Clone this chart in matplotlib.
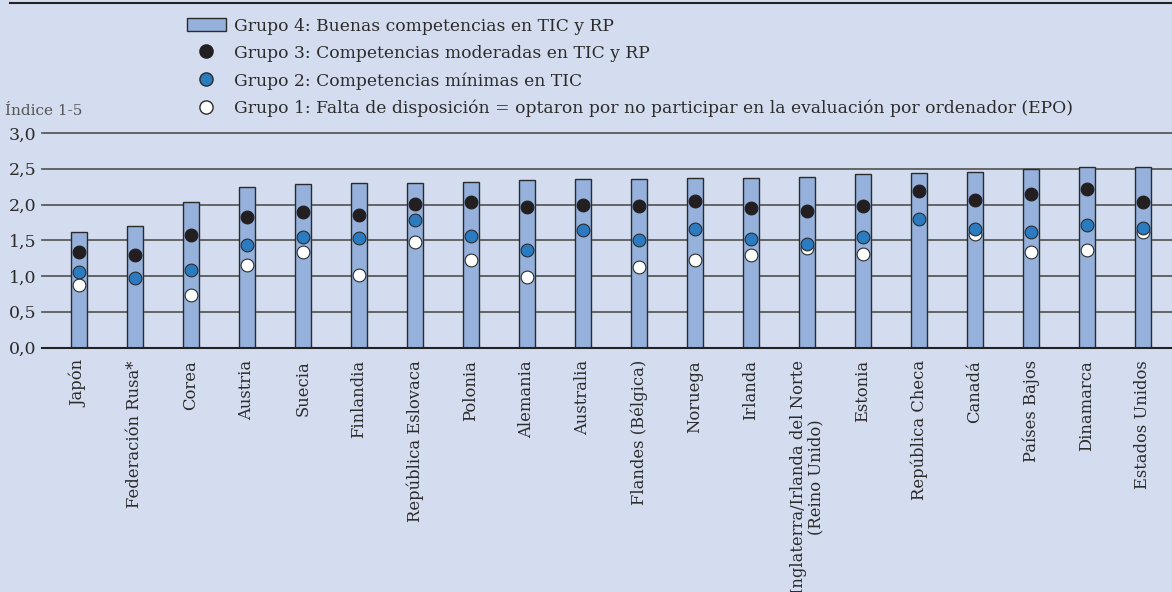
import numpy as np
import matplotlib.pyplot as plt
from matplotlib.patches import Patch
from matplotlib.lines import Line2D

# datos (índice 1-5)
paises = ["Japón", "Federación Rusa*", "Corea", "Austria", "Suecia", "Finlandia",
          "República Eslovaca", "Polonia", "Alemania", "Australia", "Flandes (Bélgica)",
          "Noruega", "Irlanda", "Inglaterra/Irlanda del Norte\n(Reino Unido)", "Estonia",
          "República Checa", "Canadá", "Países Bajos", "Dinamarca", "Estados Unidos"]
grupo4 = [1.62, 1.70, 2.04, 2.24, 2.28, 2.30, 2.30, 2.32, 2.34, 2.35, 2.36,
          2.37, 2.37, 2.39, 2.43, 2.44, 2.45, 2.50, 2.53, 2.53]
grupo3 = [1.34, 1.29, 1.58, 1.83, 1.90, 1.85, 2.01, 2.03, 1.96, 2.00, 1.98,
          2.05, 1.95, 1.91, 1.98, 2.19, 2.06, 2.14, 2.22, 2.03]
grupo2 = [1.06, 0.97, 1.08, 1.43, 1.55, 1.53, 1.78, 1.56, 1.36, 1.65, 1.51,
          1.66, 1.52, 1.45, 1.54, 1.80, 1.66, 1.61, 1.72, 1.67]
grupo1 = [0.88, np.nan, 0.74, 1.16, 1.33, 1.01, 1.47, 1.23, 0.99, np.nan, 1.12,
          1.23, 1.30, 1.39, 1.31, np.nan, 1.59, 1.34, 1.37, 1.62]
etiquetas = ["Grupo 4: Buenas competencias en TIC y RP",
             "Grupo 3: Competencias moderadas en TIC y RP",
             "Grupo 2: Competencias mínimas en TIC",
             "Grupo 1: Falta de disposición = optaron por no participar en la evaluación por ordenador (EPO)"]

fondo = "#d4ddef"
c_barra = "#95b1dc"
c_azul = "#2a7bc0"
c_negro = "#231f20"
borde = "#2b2b2b"

plt.rcParams['font.family'] = ['DejaVu Serif']

fig = plt.figure(figsize=(11.72, 5.92), dpi=100, facecolor=fondo)
W, H = 1172, 592
ax = fig.add_axes([42 / W, (H - 347.5) / H, (W - 42) / W, (347.5 - 133) / H])
ax.set_facecolor(fondo)

x = np.arange(len(paises))
ax.bar(x, grupo4, width=0.28, color=c_barra, edgecolor=borde, linewidth=1.0, zorder=3)
ax.plot(x, grupo3, 'o', ms=9.2, mfc=c_negro, mec=c_negro, mew=0.8, zorder=4, ls='none')
ax.plot(x, grupo1, 'o', ms=9.2, mfc='white', mec=borde, mew=0.8, zorder=4, ls='none')
ax.plot(x, grupo2, 'o', ms=9.2, mfc=c_azul, mec=borde, mew=0.8, zorder=5, ls='none')

ax.set_xlim(-0.66, 19.52)
ax.set_ylim(0, 3.0)
ax.set_yticks(np.arange(0, 3.01, 0.5))
ax.set_yticklabels([f"{v:.1f}".replace(".", ",") for v in np.arange(0, 3.01, 0.5)],
                   fontsize=12.5, color="#2b2b2b")
ax.yaxis.grid(True, color="#5b5b5b", linewidth=1.3, zorder=1)
for gl in ax.get_ygridlines():
    gl.set_clip_on(False)
ax.set_axisbelow(True)
ax.tick_params(axis='y', length=0, pad=4)
ax.tick_params(axis='x', length=0, pad=9)
ax.set_xticks(x)
ax.set_xticklabels(paises, rotation=90, fontsize=11.8, color="#2b2b2b",
                   ha='center', va='top', multialignment='center', linespacing=1.0)
for s in ['left', 'right', 'top']:
    ax.spines[s].set_visible(False)
ax.spines['bottom'].set_color("#222222")
ax.spines['bottom'].set_linewidth(1.5)
ax.spines['bottom'].set_zorder(6)

fig.text(5 / W, 1 - 111 / H, "Índice 1-5", fontsize=11, color="#555555", va='center')
fig.add_artist(Line2D([10 / W, 1], [1 - 3 / H, 1 - 3 / H], color="#222222", lw=1.5))

handles = [Patch(facecolor=c_barra, edgecolor=borde, linewidth=1.0),
           Line2D([], [], marker='o', ls='none', ms=9.5, mfc=c_negro, mec=c_negro),
           Line2D([], [], marker='o', ls='none', ms=9.5, mfc=c_azul, mec=borde),
           Line2D([], [], marker='o', ls='none', ms=9.5, mfc='white', mec=borde)]
fig.legend(handles, etiquetas, loc='upper left', bbox_to_anchor=(178 / W, 1 - 9 / H),
           frameon=False, fontsize=12.3, labelspacing=0.6, handlelength=2.3,
           handleheight=0.85, handletextpad=0.45, borderpad=0, labelcolor="#2b2b2b")

fig.savefig("out.png", dpi=100, facecolor=fondo)
